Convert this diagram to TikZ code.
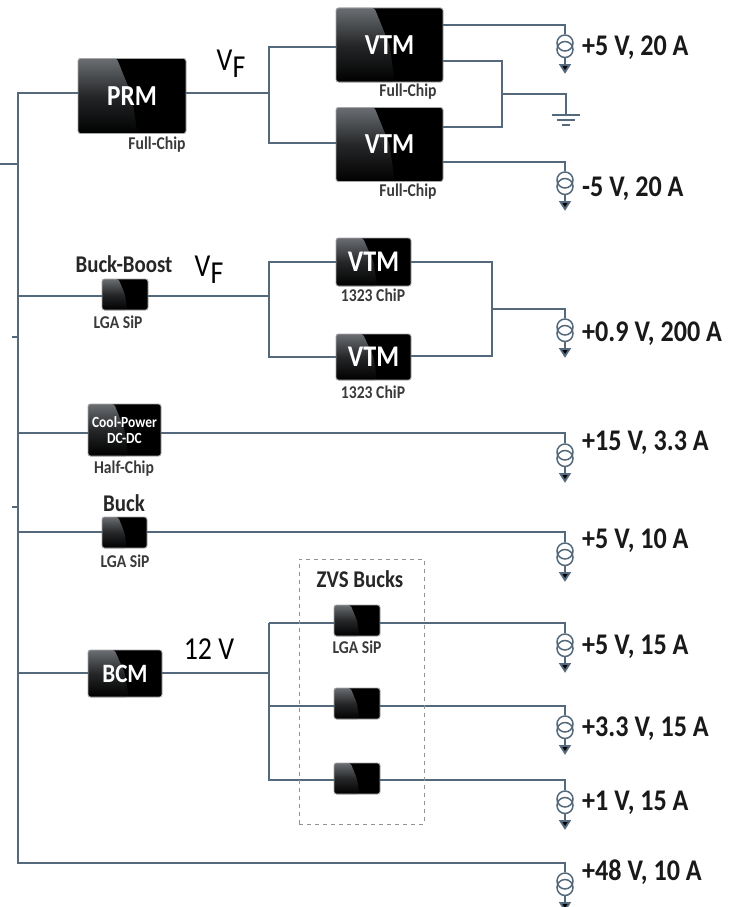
\documentclass[tikz,border=0pt]{standalone}
\usepackage{fontspec}
\setmainfont{Carlito}[FakeStretch=0.87]
\usetikzlibrary{calc}
\definecolor{wire}{HTML}{54697B}
\definecolor{labelgray}{HTML}{3A3A3A}
\definecolor{glossA}{HTML}{6A6E72}
\definecolor{glossB}{HTML}{000000}
\newcommand{\fs}[1]{\fontsize{#1}{#1}\selectfont}
\tikzset{
  x=1pt,y=-1pt,
  wire/.style={draw=wire,line width=1.9pt},
  chipbox/.style={draw=gray!70,line width=0.9pt,fill=black,rounded corners=2.5pt,inner sep=0pt,
     text=white,align=center,
     path picture={
       \shade[top color=glossA,bottom color=glossB,middle color=glossA!35!black]
         (path picture bounding box.north west) --
         ($(path picture bounding box.north west)!0.36!(path picture bounding box.north east)$) --
         (path picture bounding box.center) --
         ($(path picture bounding box.south west)!0.55!(path picture bounding box.south east)$) --
         (path picture bounding box.south west) -- cycle;
     }},
  note/.style={font=\fs{18}\bfseries,text=labelgray,inner sep=0pt},
  headlabel/.style={font=\fs{24}\bfseries,text=black!85,inner sep=0pt},
  outlabel/.style={font=\fs{30}\bfseries,text=black!90,inner sep=0pt,anchor=west},
  biglabel/.style={font=\fs{32},text=black,inner sep=0pt},
  pics/isrc/.style={code={
    \draw[wire,line width=1.5pt] (0,9) circle[radius=8];
    \draw[wire,line width=1.5pt] (0,15.5) circle[radius=8];
    \draw[wire,line width=1.5pt] (0,24) -- (0,32);
    \fill[wire] (-4.5,31) -- (4.5,31) -- (0,38) -- cycle;
  }}
}
\begin{document}
\begin{tikzpicture}
\useasboundingbox (0,0) rectangle (733,907);
% chips
\node[chipbox,minimum width=108pt,minimum height=75pt,font=\fs{29}\bfseries] (prm) at (132,96) {PRM};
\node[chipbox,minimum width=107pt,minimum height=74pt,font=\fs{29}\bfseries] (vtma) at (389.5,45) {VTM};
\node[chipbox,minimum width=107pt,minimum height=74pt,font=\fs{29}\bfseries] (vtmb) at (389.5,144.5) {VTM};
\node[chipbox,minimum width=46pt,minimum height=31pt] (bb) at (125,294.5) {};
\node[chipbox,minimum width=75pt,minimum height=48pt,font=\fs{30}\bfseries] (vtmc) at (373.5,262) {VTM};
\node[chipbox,minimum width=75pt,minimum height=46pt,font=\fs{30}\bfseries] (vtmd) at (373.5,357) {VTM};
\node[chipbox,minimum width=73pt,minimum height=52pt,font=\fs{15.5}\bfseries] (cool) at (124.5,430) {Cool-Power\\DC-DC};
\node[chipbox,minimum width=45pt,minimum height=31pt] (buck) at (124.5,532.5) {};
\node[chipbox,minimum width=74pt,minimum height=47pt,font=\fs{26.5}\bfseries] (bcm) at (125,673.5) {BCM};
\node[chipbox,minimum width=46pt,minimum height=31pt] (za) at (357,620.5) {};
\node[chipbox,minimum width=46pt,minimum height=31pt] (zb) at (357,703.5) {};
\node[chipbox,minimum width=46pt,minimum height=31pt] (zc) at (357,778.5) {};
% junctions
\coordinate (bustop) at (18,93);
\coordinate (busbot) at (18,863);
\coordinate (inpt) at (0,164);
\coordinate (inj) at (18,164);
\coordinate (t1) at (12,337);
\coordinate (t1j) at (18,337);
\coordinate (t2) at (12,507);
\coordinate (t2j) at (18,507);
\coordinate (jf) at (269,93);
\coordinate (jfa) at (269,47);
\coordinate (jfb) at (269,143);
\coordinate (gj) at (502,94);
\coordinate (gnd) at (566,115);
\coordinate (jg) at (269,296);
\coordinate (jga) at (269,262);
\coordinate (jgb) at (269,357);
\coordinate (rb) at (492,309);
\coordinate (jb) at (269,673);
\coordinate (jba) at (269,623);
\coordinate (jbb) at (269,706);
\coordinate (jbc) at (269,780);
% sources (top of symbol)
\coordinate (s1) at (565,34);
\coordinate (s2) at (565,171);
\coordinate (s3) at (565,318);
\coordinate (s4) at (565,443);
\coordinate (s5) at (565,542);
\coordinate (s6) at (565,633);
\coordinate (s7) at (565,715);
\coordinate (s8) at (565,790);
\coordinate (s9) at (565,872);
\foreach \s in {s1,s2,s3,s4,s5,s6,s7,s8,s9} \pic at (\s) {isrc};
% wires
\draw[wire] (prm.west |- bustop) -- (bustop) -- (busbot) -- (565,863) -- (s9);
\draw[wire] (inpt) -- (inj);
\draw[wire] (t1) -- (t1j);
\draw[wire] (t2) -- (t2j);
\draw[wire] (prm.east |- jf) -- (jf);
\draw[wire] (vtma.west |- jfa) -- (jfa) -- (jfb) -- (vtmb.west |- jfb);
\draw[wire] (443,25) -- (565,25) -- (s1);
\draw[wire] (443,162) -- (565,162) -- (s2);
\draw[wire] (443,61) -- (502,61) -- (502,127) -- (443,127);
\draw[wire] (gj) -- (gj -| gnd) -- (gnd);
\draw[wire] ($(gnd)+(-14,0)$) -- ($(gnd)+(14,0)$);
\draw[wire] ($(gnd)+(-9,5)$) -- ($(gnd)+(9,5)$);
\draw[wire] ($(gnd)+(-4,10)$) -- ($(gnd)+(4,10)$);
\draw[wire] (18,296) -- (bb.west |- 18,296);
\draw[wire] (bb.east |- jg) -- (jg);
\draw[wire] (vtmc.west |- jga) -- (jga) -- (jgb) -- (vtmd.west |- jgb);
\draw[wire] (vtmc.east |- jga) -- (492,262) -- (492,356) -- (vtmd.east |- 0,356);
\draw[wire] (rb) -- (rb -| s3) -- (s3);
\draw[wire] (18,433) -- (cool.west |- 18,433);
\draw[wire] (cool.east |- 18,433) -- (565,433) -- (s4);
\draw[wire] (18,532) -- (buck.west |- 18,532);
\draw[wire] (buck.east |- 18,532) -- (565,532) -- (s5);
\draw[wire] (18,673) -- (bcm.west |- 18,673);
\draw[wire] (bcm.east |- 18,673) -- (jb);
\draw[wire] (jba) -- (jbc) -- (zc.west |- jbc);
\draw[wire] (jba) -- (za.west |- jba);
\draw[wire] (jbb) -- (zb.west |- jbb);
\draw[wire] (za.east |- jba) -- (jba -| s6) -- (s6);
\draw[wire] (zb.east |- jbb) -- (jbb -| s7) -- (s7);
\draw[wire] (zc.east |- jbc) -- (jbc -| s8) -- (s8);
% dashed box
\node[draw=gray!85,dash pattern=on 4pt off 4pt,line width=1pt,minimum width=125pt,minimum height=265pt,inner sep=0pt] (zvs) at (361.5,691.5) {};
% labels
\node[note] (n1) at (157,145) {Full-Chip};
\node[note] (n2) at (408,92) {Full-Chip};
\node[note] (n3) at (408,192) {Full-Chip};
\node[headlabel] (n4) at (124,264) {Buck-Boost};
\node[note] (n5) at (118,322) {LGA SiP};
\node[note] (n6) at (373,392) {1323 ChiP};
\node[note] (n7) at (373,295) {1323 ChiP};
\node[note] (n8) at (124,469) {Half-Chip};
\node[headlabel] (n9) at (124,503) {Buck};
\node[note] (n10) at (125,561) {LGA SiP};
\node[headlabel] (n11) at (360,579) {ZVS Bucks};
\node[note] (n12) at (357,647) {LGA SiP};
\node[biglabel] (vf1) at (231,64) {V\raisebox{-7pt}{F}};
\node[biglabel] (vf2) at (209,270) {V\raisebox{-7pt}{F}};
\node[biglabel] (v12) at (209,649) {12 V};
\node[outlabel] (o1) at (582,48) {+5 V, 20 A};
\node[outlabel] (o2) at (582,189) {-5 V, 20 A};
\node[outlabel] (o3) at (582,334) {+0.9 V, 200 A};
\node[outlabel] (o4) at (582,443) {+15 V, 3.3 A};
\node[outlabel] (o5) at (582,541) {+5 V, 10 A};
\node[outlabel] (o6) at (582,647) {+5 V, 15 A};
\node[outlabel] (o7) at (582,729) {+3.3 V, 15 A};
\node[outlabel] (o8) at (582,803) {+1 V, 15 A};
\node[outlabel] (o9) at (582,872) {+48 V, 10 A};
\end{tikzpicture}
\end{document}
